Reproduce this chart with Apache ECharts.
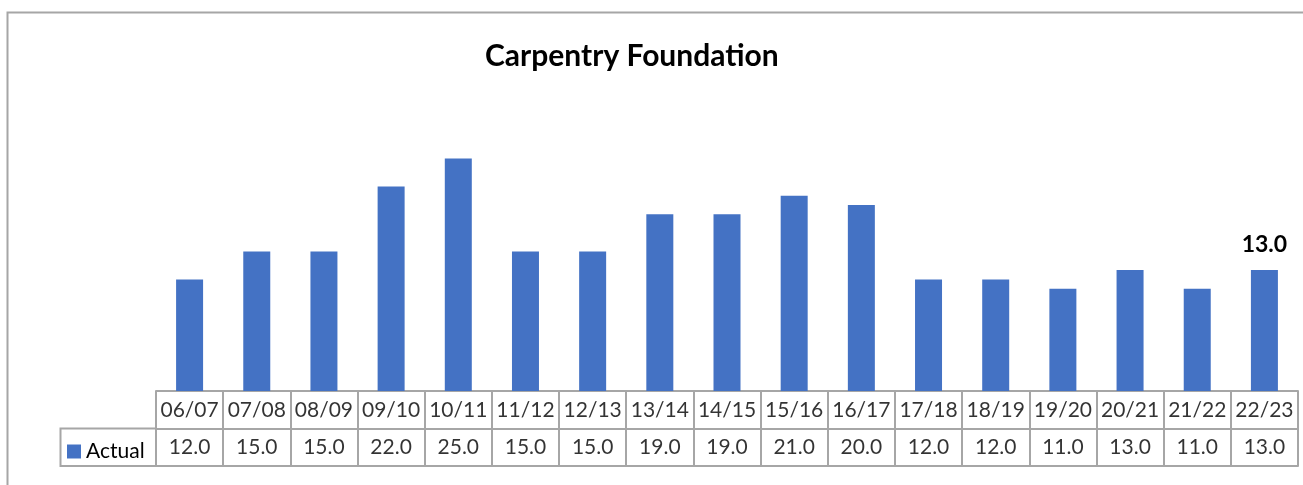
<!DOCTYPE html>
<html><head><meta charset="utf-8">
<script src="https://cdn.jsdelivr.net/npm/echarts@6/dist/echarts.min.js"></script>
<style>html,body{margin:0;padding:0;background:#fff}#c{width:1303px;height:485px}</style>
</head><body><div id="c"></div>
<script>
const categories = ['06/07','07/08','08/09','09/10','10/11','11/12','12/13','13/14','14/15','15/16','16/17','17/18','18/19','19/20','20/21','21/22','22/23'];
const actual = [12,15,15,22,25,15,15,19,19,21,20,12,12,11,13,11,13];
const seriesName = 'Actual';
const titleText = 'Carpentry Foundation';

const FONT = 'Lato';
const BLUE = '#4472C4';
const LINE = '#A6A6A6';

const barData = actual.map((v, i) => i === actual.length - 1 ? {
  value: v,
  label: { show: true, position: 'top', distance: 14, formatter: p => p.value.toFixed(1), fontFamily: FONT, fontWeight: 'bold', fontSize: 23, color: '#000' }
} : v);

const headerRow = categories.map((c, i) => [i, 1.5, c]);
const valueRow = actual.map((v, i) => [i, 0.5, v.toFixed(1)]);

const chart = echarts.init(document.getElementById('c'), null, { renderer: 'canvas' });
chart.setOption({
  animation: false,
  title: { text: titleText, left: 480, top: 36, textStyle: { fontFamily: FONT, fontWeight: 'bold', fontSize: 30, color: '#000' } },
  legend: {
    data: [seriesName], left: 62, top: 436, icon: 'rect', itemWidth: 14, itemHeight: 14, itemGap: 0,
    textStyle: { fontFamily: FONT, fontSize: 21, color: '#000', padding: [0, 0, 0, 0] }
  },
  graphic: [
    { type: 'rect', shape: { x: 7.5, y: 12.5, width: 1400, height: 600 }, style: { fill: 'none', stroke: LINE, lineWidth: 2 }, z: -1 },
    { type: 'rect', shape: { x: 60.5, y: 428.5, width: 95.5, height: 37.5 }, style: { fill: 'none', stroke: LINE, lineWidth: 2 } }
  ],
  grid: [
    { left: 156, right: 5, top: 112, height: 279 },
    { left: 156, right: 5, top: 391, height: 75 }
  ],
  xAxis: [
    { gridIndex: 0, type: 'category', data: categories, boundaryGap: true, axisLine: { show: false }, axisTick: { show: false }, axisLabel: { show: false } },
    { gridIndex: 1, type: 'category', data: categories, boundaryGap: true, axisLine: { show: false }, axisTick: { show: false }, axisLabel: { show: false },
      splitLine: { show: true, lineStyle: { color: LINE, width: 2 } } }
  ],
  yAxis: [
    { gridIndex: 0, type: 'value', min: 0, max: 30, show: false },
    { gridIndex: 1, type: 'value', min: 0, max: 2, interval: 1, axisLabel: { show: false }, axisTick: { show: false },
      axisLine: { show: true, lineStyle: { color: LINE, width: 2 } },
      splitLine: { show: true, lineStyle: { color: LINE, width: 2 } } },
    { gridIndex: 1, type: 'value', position: 'right', min: 0, max: 2, interval: 1, axisLabel: { show: false }, axisTick: { show: false },
      axisLine: { show: true, lineStyle: { color: LINE, width: 2 } }, splitLine: { show: false } }
  ],
  series: [
    { name: seriesName, type: 'bar', xAxisIndex: 0, yAxisIndex: 0, data: barData, barWidth: 27, itemStyle: { color: BLUE } },
    { type: 'scatter', xAxisIndex: 1, yAxisIndex: 1, data: headerRow, symbolSize: 1, itemStyle: { color: 'rgba(0,0,0,0)' }, silent: true,
      label: { show: true, position: 'inside', formatter: p => p.data[2], fontFamily: FONT, fontSize: 21, color: '#000' } },
    { type: 'scatter', xAxisIndex: 1, yAxisIndex: 1, data: valueRow, symbolSize: 1, itemStyle: { color: 'rgba(0,0,0,0)' }, silent: true,
      label: { show: true, position: 'inside', formatter: p => p.data[2], fontFamily: FONT, fontSize: 21, color: '#000' } }
  ]
});
</script></body></html>
